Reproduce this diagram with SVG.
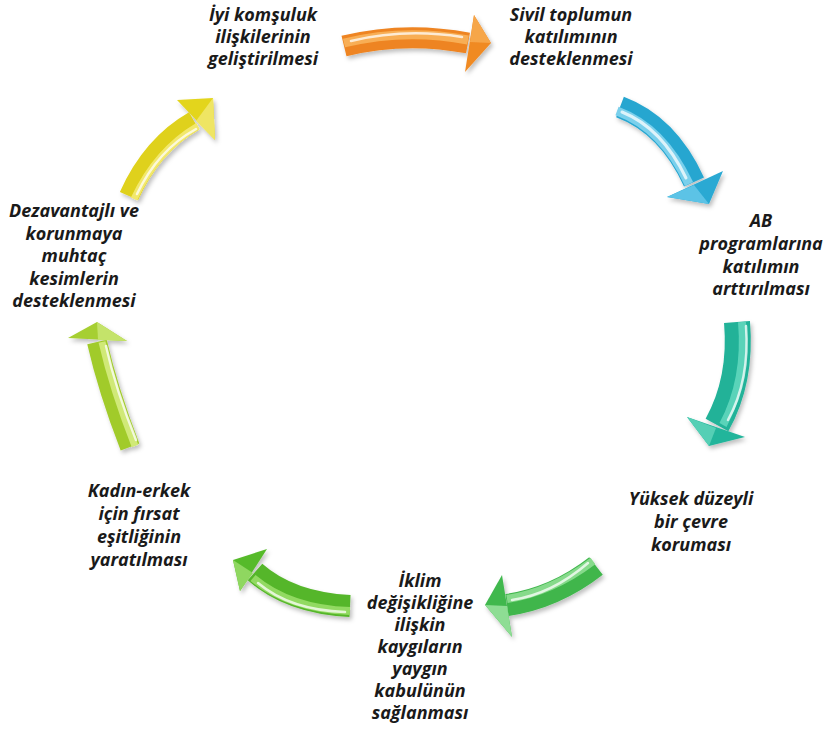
<svg xmlns="http://www.w3.org/2000/svg" width="830" height="729" viewBox="0 0 830 729">
<defs>
<filter id="sh" x="-20%" y="-20%" width="140%" height="140%">
<feDropShadow dx="2" dy="3" stdDeviation="2" flood-color="#000" flood-opacity="0.25"/>
</filter>
<style>
.t{font-family:"Open Sans","Liberation Sans",sans-serif;font-weight:bold;font-style:italic;font-size:18px;fill:#1a1a1a;text-anchor:middle}
.body{fill:none;stroke-linecap:butt}
.hl{fill:none;stroke:#fff;stroke-opacity:0.75;stroke-linecap:round}
</style>
</defs>
<rect width="830" height="729" fill="#fff"/>
<g id="connectors">
<g id="arrow-orange" filter="url(#sh)">
<path class="body" d="M344,46 Q405,31 468,43" stroke="#ee8420" stroke-width="21"/>
<path class="body" d="M344,43 Q405,28 468,40" stroke="#f8ae55" stroke-width="9"/>
<path class="hl" d="M351,41 Q405,28 462,37" stroke-width="2.5"/>
<polygon points="474,15 491,43 465,72" fill="#f08a24"/>
<polygon points="474,15 491,43 470,42" fill="#f6a64a"/>
</g>
<g id="arrow-blue" filter="url(#sh)">
<path class="body" d="M620,107 Q668,125 694,182" stroke="#28a6d0" stroke-width="22"/>
<path class="body" d="M617,111 Q663,128 689,184" stroke="#7ad0ec" stroke-width="9"/>
<path class="hl" d="M622,112 Q662,128 686,178" stroke-width="3"/>
<polygon points="667,197 709,204 723,171" fill="#2aa9d3"/>
<polygon points="667,197 709,204 694,185" fill="#5cc3e6"/>
</g>
<g id="arrow-teal" filter="url(#sh)">
<path class="body" d="M737,322 Q742,380 717,425" stroke="#20b298" stroke-width="26"/>
<path class="body" d="M742,322 Q747,380 723,425" stroke="#5ad3b9" stroke-width="8"/>
<path class="hl" d="M746,326 Q750,380 728,420" stroke-width="2.5"/>
<polygon points="687,417 709,446 745,437" fill="#24b59b"/>
<polygon points="687,417 709,446 716,428" fill="#55cfb5"/>
</g>
<g id="arrow-green-right" filter="url(#sh)">
<path class="body" d="M596,566 Q555,598 507,605" stroke="#3fb64c" stroke-width="22"/>
<path class="body" d="M593,561 Q552,592 507,599" stroke="#86da8b" stroke-width="8"/>
<path class="hl" d="M588,563 Q552,594 512,600" stroke-width="2.5"/>
<polygon points="502,575 485,605 512,637" fill="#40b84e"/>
<polygon points="485,605 512,637 507,606" fill="#8edd94"/>
</g>
<g id="arrow-green-left" filter="url(#sh)">
<path class="body" d="M350,606 Q290,603 255,572" stroke="#55b62a" stroke-width="22"/>
<path class="body" d="M350,611 Q290,609 253,578" stroke="#92da62" stroke-width="8"/>
<path class="hl" d="M345,612 Q290,610 258,583" stroke-width="2.5"/>
<polygon points="267,549 233,560 240,591" fill="#57ba2c"/>
<polygon points="233,560 240,591 253,573" fill="#8fd760"/>
</g>
<g id="arrow-yellowgreen" filter="url(#sh)">
<path class="body" d="M130,447 Q108,390 97,342" stroke="#a1cb2c" stroke-width="20"/>
<path class="body" d="M135,446 Q113,390 102,342" stroke="#d0e977" stroke-width="7"/>
<path class="hl" d="M136,440 Q116,390 106,346" stroke-width="2.5"/>
<polygon points="68,338 97,322 127,341" fill="#a6cf30"/>
<polygon points="97,322 127,341 98,340" fill="#c4e36a"/>
</g>
<g id="arrow-yellow" filter="url(#sh)">
<path class="body" d="M129,196 Q152,145 194,121" stroke="#dfd11a" stroke-width="20"/>
<path class="body" d="M134,199 Q157,150 198,126" stroke="#f2e86c" stroke-width="7"/>
<path class="hl" d="M137,194 Q158,150 196,129" stroke-width="2.5"/>
<polygon points="177,100 213,98 215,140" fill="#e3d51e"/>
<polygon points="213,98 215,140 196,121" fill="#efe564"/>
</g>
</g>
<g id="node-komsuluk">
<text class="t" x="263" y="21">İyi komşuluk</text>
<text class="t" x="263" y="43">ilişkilerinin</text>
<text class="t" x="263" y="65">geliştirilmesi</text>
</g>
<g id="node-sivil">
<text class="t" x="571" y="21">Sivil toplumun</text>
<text class="t" x="571" y="43">katılımının</text>
<text class="t" x="571" y="65">desteklenmesi</text>
</g>
<g id="node-ab">
<text class="t" x="761" y="227">AB</text>
<text class="t" x="761" y="250">programlarına</text>
<text class="t" x="761" y="273">katılımın</text>
<text class="t" x="761" y="295">arttırılması</text>
</g>
<g id="node-cevre">
<text class="t" x="691" y="505">Yüksek düzeyli</text>
<text class="t" x="691" y="528">bir çevre</text>
<text class="t" x="691" y="551">koruması</text>
</g>
<g id="node-iklim">
<text class="t" x="420" y="587">İklim</text>
<text class="t" x="420" y="609">değişikliğine</text>
<text class="t" x="420" y="631">ilişkin</text>
<text class="t" x="420" y="653">kaygıların</text>
<text class="t" x="420" y="675">yaygın</text>
<text class="t" x="420" y="697">kabulünün</text>
<text class="t" x="420" y="719">sağlanması</text>
</g>
<g id="node-kadin">
<text class="t" x="139" y="497">Kadın-erkek</text>
<text class="t" x="139" y="520">için fırsat</text>
<text class="t" x="139" y="543">eşitliğinin</text>
<text class="t" x="139" y="566">yaratılması</text>
</g>
<g id="node-dezavantajli">
<text class="t" x="74" y="217">Dezavantajlı ve</text>
<text class="t" x="74" y="240">korunmaya</text>
<text class="t" x="74" y="262">muhtaç</text>
<text class="t" x="74" y="285">kesimlerin</text>
<text class="t" x="74" y="307">desteklenmesi</text>
</g>
</svg>
